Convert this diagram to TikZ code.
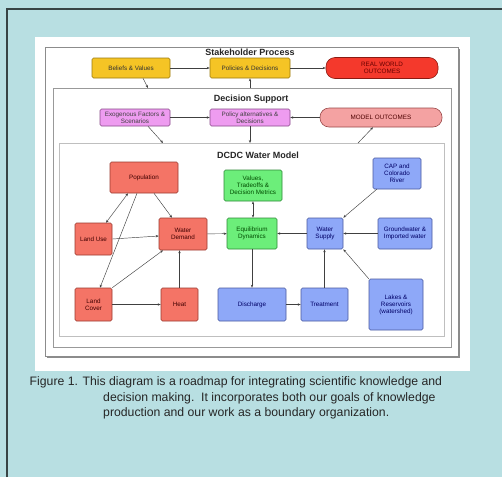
\documentclass[tikz,border=0pt]{standalone}
\usepackage{fontspec}
\setmainfont{Liberation Sans}
\usetikzlibrary{arrows.meta}
\definecolor{bgc}{HTML}{B8DFE2}
\definecolor{yel}{HTML}{F5C425}
\definecolor{yelb}{HTML}{9A7A10}
\definecolor{rwo}{HTML}{F4392C}
\definecolor{rwob}{HTML}{8A1A12}
\definecolor{vio}{HTML}{EE9CF0}
\definecolor{viob}{HTML}{8A4A8A}
\definecolor{mo}{HTML}{F4A2A2}
\definecolor{mob}{HTML}{9A4A4A}
\definecolor{sal}{HTML}{F47466}
\definecolor{salb}{HTML}{9A3A30}
\definecolor{grn}{HTML}{6CEE7A}
\definecolor{grnb}{HTML}{2E8A38}
\definecolor{blu}{HTML}{8EA8F8}
\definecolor{blub}{HTML}{4A5AA0}
\tikzset{
  x=1pt, y=-1pt,
  nb/.style={draw, rounded corners=1.5pt, line width=0.6pt, align=center, inner sep=0.5pt,
    font=\fontsize{6.3}{7}\selectfont},
  ybox/.style={nb, fill=yel, draw=yelb, text=black!80},
  vbox/.style={nb, fill=vio, draw=viob, text=black!75},
  sbox/.style={nb, fill=sal, draw=salb, text=black!75!red},
  gbox/.style={nb, fill=grn, draw=grnb, text=black!70!green},
  bbox/.style={nb, fill=blu, draw=blub, text=black!60!blue},
  pill/.style={nb, rounded corners=9pt},
  arr/.style={-{Stealth[length=3pt,width=2.4pt]}, line width=0.45pt, draw=black!75},
  darr/.style={{Stealth[length=3pt,width=2.4pt]}-{Stealth[length=3pt,width=2.4pt]}, line width=0.45pt, draw=black!75},
  ttl/.style={font=\bfseries\fontsize{9}{10}\selectfont, text=black!85},
  captxt/.style={anchor=base west, font=\fontsize{12.25}{14}\selectfont, text=black!85, inner sep=0pt}
}
\begin{document}
\begin{tikzpicture}
\useasboundingbox (0,0) rectangle (502,477);
\fill[bgc] (0,0) rectangle (502,477);
\draw[line width=1.2pt, draw=black!70!bgc] (7,477) -- (7,9) -- (502,9);
% white panel
\fill[white] (35,37) rectangle (470,371);
% containers
\fill[black!45] (47,49) rectangle (460,358);
\fill[white] (45,47) rectangle (458,356);
\draw[line width=0.9pt, draw=black!45] (45,47) rectangle (458,356);
\draw[line width=0.9pt, draw=black!40] (53,88) rectangle (451,347);
\draw[line width=0.7pt, draw=black!25] (59,143) rectangle (444,336);
\node[ttl] (t1) at (250,52) {Stakeholder Process};
\node[ttl] (t2) at (251,99) {Decision Support};
\node[ttl] (t3) at (258,155) {DCDC Water Model};
% stakeholder row
\node[ybox, minimum width=78pt, minimum height=20pt] (beliefs) at (131,68) {Beliefs \& Values};
\node[ybox, minimum width=80pt, minimum height=20pt] (policies) at (250,68) {Policies \& Decisions};
\node[pill, fill=rwo, draw=rwob, text=black!60!red, minimum width=112pt, minimum height=21pt] (real) at (382,68) {REAL WORLD\\OUTCOMES};
% decision support row
\node[vbox, minimum width=70pt, minimum height=17pt] (exo) at (135,117.5) {Exogenous Factors \&\\Scenarios};
\node[vbox, minimum width=80pt, minimum height=17pt] (polalt) at (250,117.5) {Policy alternatives \&\\Decisions};
\node[pill, fill=mo, draw=mob, text=black!70!red, minimum width=122pt, minimum height=19pt] (modelout) at (381,117.5) {MODEL OUTCOMES};
% water model
\node[sbox, minimum width=68pt, minimum height=31pt] (population) at (144,177.5) {Population};
\node[sbox, minimum width=37pt, minimum height=32pt] (landuse) at (93.5,239) {Land Use};
\node[sbox, minimum width=48pt, minimum height=32pt] (waterdemand) at (183,234) {Water\\Demand};
\node[sbox, minimum width=37pt, minimum height=33pt] (landcover) at (93.5,304.5) {Land\\Cover};
\node[sbox, minimum width=37pt, minimum height=33pt] (heat) at (179.5,304.5) {Heat};
\node[gbox, minimum width=58pt, minimum height=31pt] (values) at (253,185.5) {Values,\\Tradeoffs \&\\Decision Metrics};
\node[gbox, minimum width=50pt, minimum height=31pt] (equil) at (252,233.5) {Equilibrium\\Dynamics};
\node[bbox, minimum width=36pt, minimum height=31pt] (watersupply) at (325,233.5) {Water\\Supply};
\node[bbox, minimum width=48pt, minimum height=31pt] (capr) at (397,173.5) {CAP and\\Colorado\\River};
\node[bbox, minimum width=54pt, minimum height=31pt] (ground) at (405,233.5) {Groundwater \&\\Imported water};
\node[bbox, minimum width=68pt, minimum height=33pt] (discharge) at (252,304.5) {Discharge};
\node[bbox, minimum width=47pt, minimum height=33pt] (treatment) at (324.5,304.5) {Treatment};
\node[bbox, minimum width=54pt, minimum height=51pt] (lakes) at (396,304.5) {Lakes \&\\Reservoirs\\(watershed)};
% coordinates on container edges
\coordinate (dsin) at (148,88);
\coordinate (dsout) at (250,88);
\coordinate (wmin1) at (163,143);
\coordinate (wmin2) at (250,143);
\coordinate (wmout) at (358,143);
% stakeholder arrows
\draw[arr] (beliefs) -- (policies);
\draw[arr] (policies) -- (real);
\draw[arr] ([xshift=12pt]beliefs.south) -- (dsin);
\draw[arr] (dsout) -- (policies.south);
% decision support arrows
\draw[arr] (exo) -- (polalt);
\draw[arr] (modelout) -- (polalt);
\draw[arr] ([xshift=13pt]exo.south) -- (wmin1);
\draw[arr] (polalt.south) -- (wmin2);
\draw[arr] (wmout) -- ([xshift=-8pt]modelout.south);
% water model arrows
\draw[darr] ([xshift=-16pt]population.south) -- ([xshift=12.5pt]landuse.north);
\draw[arr] ([xshift=10pt]population.south) -- ([xshift=-11pt]waterdemand.north);
\draw[arr] ([xshift=-7pt]population.south) -- ([xshift=6.5pt]landcover.north);
\draw[arr] (landuse.east) -- ([yshift=-2pt]waterdemand.west);
\draw[arr] (landcover.north east) -- ([xshift=-20pt]waterdemand.south);
\draw[arr] (heat.north) -- (heat.north |- waterdemand.south);
\draw[arr] (landcover) -- (heat);
\draw[arr] (waterdemand) -- (equil);
\draw[darr] (values.south) -- (values.south |- equil.north);
\draw[arr] (watersupply) -- (equil);
\draw[arr] ([xshift=4pt]capr.south west) -- (watersupply.north east);
\draw[arr] (ground) -- (watersupply);
\draw[arr] (lakes.north west) -- (watersupply.south east);
\draw[arr] (treatment.north) -- (treatment.north |- watersupply.south);
\draw[arr] (equil.south) -- (equil.south |- discharge.north);
\draw[arr] (discharge) -- (treatment);
% caption
\node[captxt] (c1) at (29.5,385) {Figure 1. This diagram is a roadmap for integrating scientific knowledge and};
\node[captxt] (c2) at (103,401) {decision making.\ \ It incorporates both our goals of knowledge};
\node[captxt] (c3) at (103,416.5) {production and our work as a boundary organization.};
\end{tikzpicture}
\end{document}
